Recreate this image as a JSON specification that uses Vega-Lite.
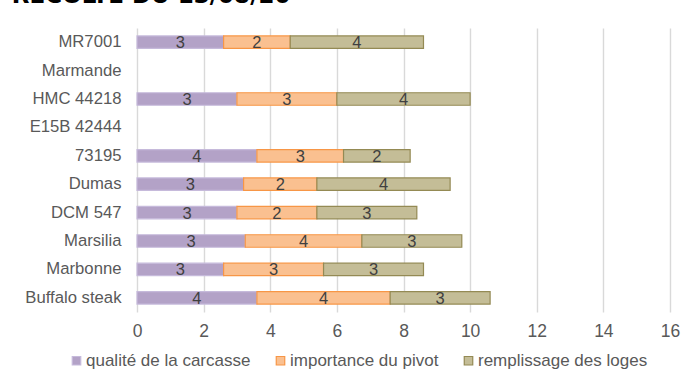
{
  "$schema": "https://vega.github.io/schema/vega-lite/v6.json",
  "width": 533,
  "height": 284,
  "autosize": {"type": "none"},
  "padding": {"left": 137, "top": 28, "right": 21, "bottom": 57},
  "background": "white",
  "title": {
    "text": "RÉCOLTE DU 13/08/20",
    "anchor": "start",
    "frame": "bounds",
    "dx": -13,
    "offset": 2,
    "baseline": "alphabetic",
    "font": "DejaVu Sans",
    "fontSize": 23,
    "fontWeight": "bold",
    "color": "#000000"
  },
  "data": {
    "values": [
      {"variete": "MR7001", "critere": "qualité de la carcasse", "ordre": 1, "note": 2.6},
      {"variete": "MR7001", "critere": "importance du pivot", "ordre": 2, "note": 2.0},
      {"variete": "MR7001", "critere": "remplissage des loges", "ordre": 3, "note": 4.0},
      {"variete": "HMC 44218", "critere": "qualité de la carcasse", "ordre": 1, "note": 3.0},
      {"variete": "HMC 44218", "critere": "importance du pivot", "ordre": 2, "note": 3.0},
      {"variete": "HMC 44218", "critere": "remplissage des loges", "ordre": 3, "note": 4.0},
      {"variete": "73195", "critere": "qualité de la carcasse", "ordre": 1, "note": 3.6},
      {"variete": "73195", "critere": "importance du pivot", "ordre": 2, "note": 2.6},
      {"variete": "73195", "critere": "remplissage des loges", "ordre": 3, "note": 2.0},
      {"variete": "Dumas", "critere": "qualité de la carcasse", "ordre": 1, "note": 3.2},
      {"variete": "Dumas", "critere": "importance du pivot", "ordre": 2, "note": 2.2},
      {"variete": "Dumas", "critere": "remplissage des loges", "ordre": 3, "note": 4.0},
      {"variete": "DCM 547", "critere": "qualité de la carcasse", "ordre": 1, "note": 3.0},
      {"variete": "DCM 547", "critere": "importance du pivot", "ordre": 2, "note": 2.4},
      {"variete": "DCM 547", "critere": "remplissage des loges", "ordre": 3, "note": 3.0},
      {"variete": "Marsilia", "critere": "qualité de la carcasse", "ordre": 1, "note": 3.25},
      {"variete": "Marsilia", "critere": "importance du pivot", "ordre": 2, "note": 3.5},
      {"variete": "Marsilia", "critere": "remplissage des loges", "ordre": 3, "note": 3.0},
      {"variete": "Marbonne", "critere": "qualité de la carcasse", "ordre": 1, "note": 2.6},
      {"variete": "Marbonne", "critere": "importance du pivot", "ordre": 2, "note": 3.0},
      {"variete": "Marbonne", "critere": "remplissage des loges", "ordre": 3, "note": 3.0},
      {"variete": "Buffalo steak", "critere": "qualité de la carcasse", "ordre": 1, "note": 3.6},
      {"variete": "Buffalo steak", "critere": "importance du pivot", "ordre": 2, "note": 4.0},
      {"variete": "Buffalo steak", "critere": "remplissage des loges", "ordre": 3, "note": 3.0}
    ]
  },
  "transform": [
    {"stack": "note", "groupby": ["variete"], "sort": [{"field": "ordre", "order": "ascending"}], "as": ["debut", "fin"]},
    {"calculate": "(datum.debut + datum.fin) / 2", "as": "milieu"}
  ],
  "encoding": {
    "y": {
      "field": "variete",
      "type": "nominal",
      "title": null,
      "scale": {
        "domain": ["MR7001", "Marmande", "HMC 44218", "E15B 42444", "73195", "Dumas", "DCM 547", "Marsilia", "Marbonne", "Buffalo steak"],
        "paddingInner": 0.56,
        "paddingOuter": 0.28
      },
      "axis": {
        "domain": false,
        "ticks": false,
        "grid": false,
        "labelPadding": 16,
        "labelFont": "Liberation Sans",
        "labelFontSize": 16.7,
        "labelColor": "#595959"
      }
    }
  },
  "layer": [
    {
      "mark": {"type": "bar", "strokeWidth": 1.2},
      "encoding": {
        "x": {
          "field": "debut",
          "type": "quantitative",
          "title": null,
          "scale": {"domain": [0, 16], "nice": false},
          "axis": {
            "values": [0, 2, 4, 6, 8, 10, 12, 14, 16],
            "domain": false,
            "ticks": false,
            "grid": true,
            "gridColor": "#d9d9d9",
            "gridWidth": 1.4,
            "labelPadding": 10,
            "labelFont": "Liberation Sans",
            "labelFontSize": 17.5,
            "labelColor": "#595959",
            "labelFlush": false
          }
        },
        "x2": {"field": "fin"},
        "fill": {
          "field": "critere",
          "type": "nominal",
          "scale": {
            "domain": ["qualité de la carcasse", "importance du pivot", "remplissage des loges"],
            "range": ["#b3a2c7", "#fac090", "#c4bd97"]
          },
          "legend": {
            "title": null,
            "orient": "none",
            "direction": "horizontal",
            "legendX": -69,
            "legendY": 324,
            "symbolType": "square",
            "symbolSize": 72,
            "symbolStrokeWidth": 1.2,
            "labelFont": "Liberation Sans",
            "labelFontSize": 17,
            "labelColor": "#595959",
            "labelOffset": 1,
            "labelLimit": 0,
            "columnPadding": 21
          }
        },
        "stroke": {
          "field": "critere",
          "type": "nominal",
          "scale": {
            "domain": ["qualité de la carcasse", "importance du pivot", "remplissage des loges"],
            "range": ["#c6badb", "#f79646", "#948a54"]
          },
          "legend": {
            "title": null,
            "orient": "none",
            "direction": "horizontal",
            "legendX": -69,
            "legendY": 324,
            "symbolType": "square",
            "symbolSize": 72,
            "symbolStrokeWidth": 1.2,
            "labelFont": "Liberation Sans",
            "labelFontSize": 17,
            "labelColor": "#595959",
            "labelOffset": 1,
            "labelLimit": 0,
            "columnPadding": 21
          }
        }
      }
    },
    {
      "mark": {"type": "text", "font": "Liberation Sans", "fontSize": 16.5, "color": "#404040", "baseline": "middle", "dy": 1},
      "encoding": {
        "x": {"field": "milieu", "type": "quantitative"},
        "text": {"field": "note", "type": "quantitative", "format": ".0f"}
      }
    }
  ],
  "config": {
    "view": {"stroke": null}
  }
}
